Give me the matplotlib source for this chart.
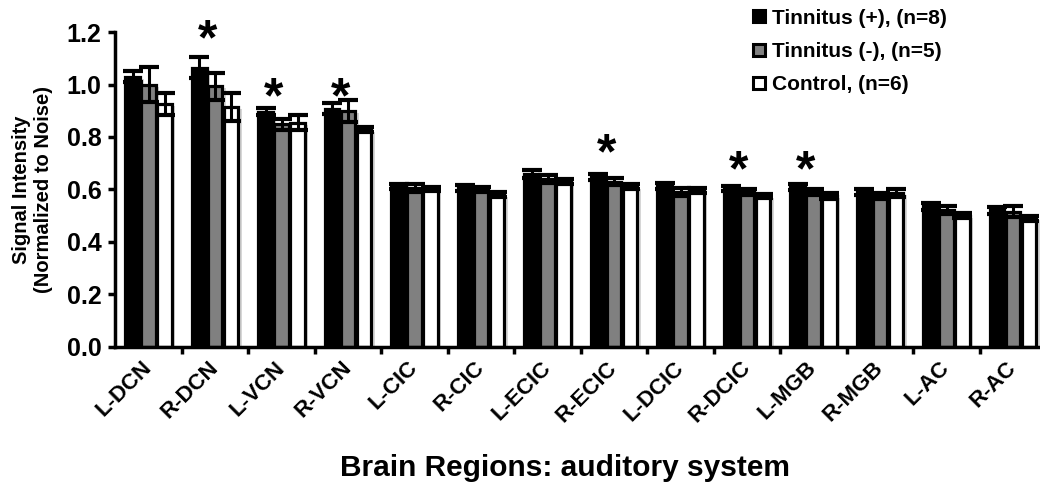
import numpy as np
import matplotlib
matplotlib.use("Agg")
from matplotlib import pyplot as plt
from matplotlib.lines import Line2D
import matplotlib.patheffects as pe

plt.rcParams['font.family'] = ['Liberation Sans', 'DejaVu Sans']
plt.rcParams['font.weight'] = 'bold'
plt.rcParams['axes.labelweight'] = 'bold'

# data
regions = ['L-DCN', 'R-DCN', 'L-VCN', 'R-VCN', 'L-CIC', 'R-CIC', 'L-ECIC',
           'R-ECIC', 'L-DCIC', 'R-DCIC', 'L-MGB', 'R-MGB', 'L-AC', 'R-AC']
tin_pos = [1.03, 1.065, 0.897, 0.908, 0.61, 0.605, 0.66, 0.648, 0.612, 0.603, 0.61, 0.59, 0.535, 0.52]
tin_pos_err = [0.02, 0.04, 0.012, 0.02, 0.01, 0.01, 0.015, 0.012, 0.012, 0.01, 0.012, 0.012, 0.012, 0.012]
tin_neg = [1.0, 0.994, 0.848, 0.90, 0.605, 0.60, 0.64, 0.63, 0.59, 0.59, 0.59, 0.575, 0.52, 0.515]
tin_neg_err = [0.068, 0.051, 0.02, 0.041, 0.015, 0.01, 0.015, 0.012, 0.015, 0.012, 0.012, 0.013, 0.015, 0.02]
control = [0.925, 0.914, 0.855, 0.828, 0.60, 0.58, 0.63, 0.61, 0.595, 0.575, 0.575, 0.585, 0.50, 0.49]
control_err = [0.041, 0.052, 0.029, 0.01, 0.008, 0.01, 0.01, 0.01, 0.01, 0.008, 0.01, 0.015, 0.01, 0.01]
labels = ['Tinnitus (+), (n=8)', 'Tinnitus (-), (n=5)', 'Control, (n=6)']

# significance stars
star_idx = [1, 2, 3, 7, 9, 10]
star_y = [1.165, 0.945, 0.945, 0.73, 0.667, 0.667]

fig = plt.figure(figsize=(10.4, 4.91), dpi=100)
ax = fig.add_axes([0.111, 0.294, 0.895, 0.6405])

x = np.arange(len(regions))
w = 0.22
lw = 2.3
series = [(tin_pos, tin_pos_err, 'black'), (tin_neg, tin_neg_err, '#808080'),
          (control, control_err, 'white')]
offsets = [-0.24, 0.0, 0.24]
shadow = [pe.withSimplePatchShadow(offset=(2.5, -1.5), shadow_rgbFace='0.55', alpha=0.35)]
for (vals, errs, col), off in zip(series, offsets):
    bars = ax.bar(x + off, vals, w, color=col, edgecolor='black', linewidth=lw, zorder=2)
    for b in bars:
        b.set_path_effects(shadow)
    ax.errorbar(x + off, vals, yerr=errs, fmt='none', ecolor='black', elinewidth=2.2,
                capsize=7.5, capthick=3, zorder=3)

for i, yv in zip(star_idx, star_y):
    ax.text(x[i] - 0.12, yv, '*', fontsize=36, ha='center', va='center',
            fontweight='bold', clip_on=False)

ax.set_xlim(-0.5, len(regions) - 0.5)
ax.set_ylim(0, 1.2)
ax.set_yticks(np.arange(0, 1.21, 0.2))
ax.set_yticklabels(['{:.1f}'.format(v) for v in np.arange(0, 1.21, 0.2)], fontsize=18)
ax.set_xticks(x)
ax.set_xticklabels(regions, rotation=45, ha='right', va='center',
                   rotation_mode='anchor', fontsize=16)
ax.set_xticks(x[:-1] + 0.5, minor=True)
ax.tick_params(axis='x', which='major', length=0, pad=13)
ax.tick_params(axis='x', which='minor', length=5, width=2.5, direction='out')
ax.tick_params(axis='y', length=5, width=2.5, direction='out', pad=5)

for s in ['top', 'right']:
    ax.spines[s].set_visible(False)
for s in ['left', 'bottom']:
    ax.spines[s].set_linewidth(2.5)

ax.set_ylabel('Signal Intensity\n(Normalized to Noise)', fontsize=14.5, fontweight='bold')
ax.yaxis.set_label_coords(-0.067, 0.5)
fig.text(0.543, 0.047, 'Brain Regions: auditory system', fontsize=21.5,
         fontweight='bold', ha='center', va='center')

handles = [Line2D([], [], marker='s', linestyle='none', markersize=9,
                  markerfacecolor=c, markeredgecolor='black', markeredgewidth=2.2)
           for c in ['black', '#808080', 'white']]
fig.legend(handles, labels, loc='upper left', bbox_to_anchor=(0.71, 1.012),
           frameon=False, fontsize=15, handlelength=0.6, handletextpad=0.3,
           labelspacing=0.68, borderaxespad=0.3)

fig.savefig('out.png', dpi=100)
